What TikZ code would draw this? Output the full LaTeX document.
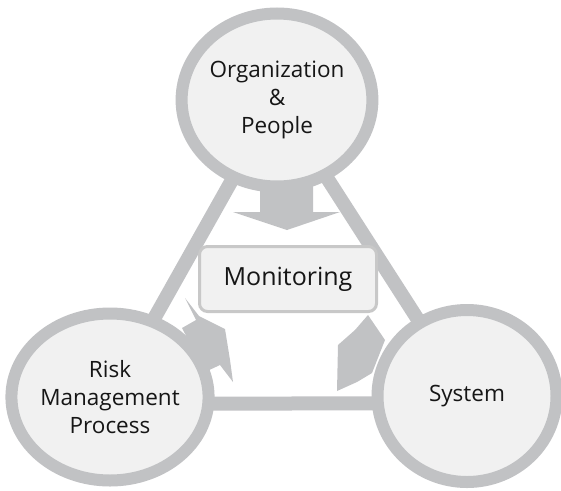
\documentclass[tikz,border=0pt]{standalone}
\usepackage{fontspec}
\setmainfont{Open Sans}
\usetikzlibrary{shapes.geometric}
\definecolor{ringgray}{HTML}{C1C2C4}
\definecolor{fillgray}{HTML}{F1F1F1}
\definecolor{boxline}{HTML}{C8C8C8}
\definecolor{textgray}{HTML}{161616}
\pgfdeclarelayer{background}
\pgfsetlayers{background,main}
\tikzset{area/.style={ellipse,draw=ringgray,fill=fillgray,line width=12pt,align=center,text=textgray,font=\fontsize{22.5}{28}\selectfont,inner sep=0pt}}
\tikzset{monbox/.style={rectangle,rounded corners=8pt,draw=boxline,fill=fillgray,line width=3pt,minimum width=177pt,minimum height=65pt,text=textgray,font=\fontsize{25}{28}\selectfont}}
\tikzset{link/.style={draw=ringgray,line width=14pt}}
\tikzset{blockArrow/.style={fill=ringgray}}

\begin{document}
\begin{tikzpicture}[x=1pt,y=-1pt]
\useasboundingbox (0,0) rectangle (561,490);
	\node (org) [area, minimum width=187pt, minimum height=173pt] at (277,100) {Organization\\\&\\People} ;
	\node (risk) [area, minimum width=189pt, minimum height=167pt] at (110,397) {Risk\\Management\\Process} ;
	\node (sys) [area, minimum width=179pt, minimum height=172pt] at (467,396) {System} ;
	\node (mon) [monbox] at (288,279) {Monitoring} ;
\begin{pgfonlayer}{background}
	\draw [link] (org.center) -- (risk.center) ;
	\draw [link] (org.center) -- (sys.center) ;
	\draw [link] ([yshift=-7pt]risk.center) -- ([yshift=-7pt]sys.center) ;
	% arrows into the monitoring box
	\path [blockArrow] (260,185) -- (313,185) -- (313,212) -- (340,212) -- (287,230) -- (233,212) -- (260,212) -- cycle ;
	\path [blockArrow] (185,298) -- (199,316) -- (225,329) -- (230,360) -- (233,382) -- (220,365) -- (205,372) -- (182,328) -- (196,320) -- cycle ;
	\path [blockArrow] (368,315) -- (385,340) -- (372,373) -- (357,382) -- (337,391) -- (338,345) -- (355,330) -- cycle ;
\end{pgfonlayer}
\end{tikzpicture}
\end{document}
